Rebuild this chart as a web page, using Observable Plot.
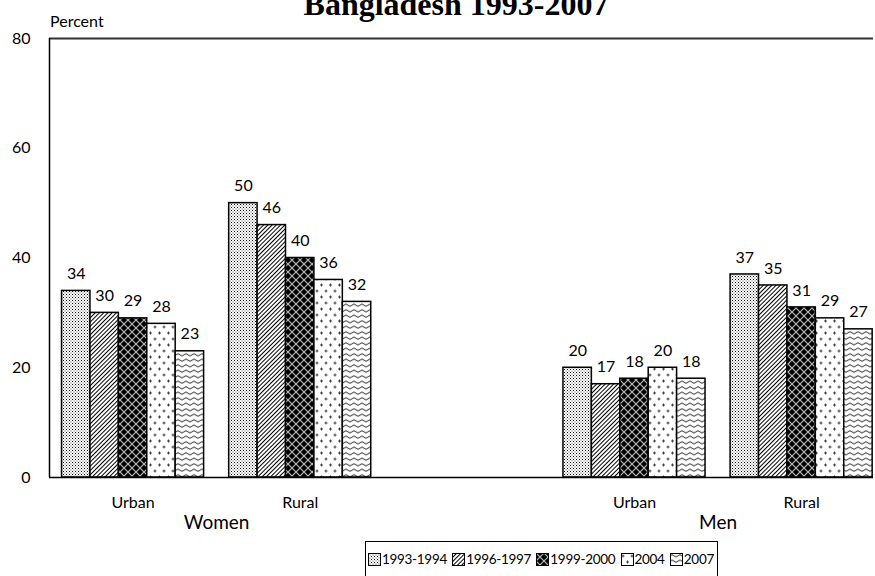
<!DOCTYPE html>
<html><head><meta charset="utf-8">
<script src="https://cdn.jsdelivr.net/npm/d3@7"></script>
<script src="https://cdn.jsdelivr.net/npm/@observablehq/plot@0.6"></script>
<style>
body{margin:0;background:#fff;}
#wrap{position:relative;width:875px;height:576px;overflow:hidden;font-family:Lato,sans-serif;color:#000;}
#wrap > svg{position:absolute;left:0;top:0;}
#title{position:absolute;top:-12px;left:456px;transform:translateX(-50%);white-space:nowrap;font:bold 32px "Liberation Serif",serif;line-height:32px;}
#ylab{position:absolute;left:50px;top:11px;font-size:16px;line-height:19px;}
#legend{position:absolute;left:365px;top:541px;width:353px;height:36px;border:1px solid #000;display:flex;justify-content:space-between;align-items:center;padding:0 3px 0 2px;box-sizing:border-box;font-size:13.5px;letter-spacing:-0.3px;}
.item{display:flex;align-items:center;}
.item svg{margin-right:1px;}
</style></head><body><div id="wrap"></div>
<script>
const sexes = ["Women", "Men"];
const areas = ["Urban", "Rural"];
const years = ["1993-1994", "1996-1997", "1999-2000", "2004", "2007"];
// values in order: Women Urban, Women Rural, Men Urban, Men Rural
const v1993 = [34, 50, 20, 37];
const v1996 = [30, 46, 17, 35];
const v1999 = [29, 40, 18, 31];
const v2004 = [28, 36, 20, 29];
const v2007 = [23, 32, 18, 27];
const yTicks = [0, 20, 40, 60, 80];
const yLabel = "Percent";
const titleText = "Bangladesh 1993-2007";

const series = [v1993, v1996, v1999, v2004, v2007];
const groupW = 0.85, barW = groupW / years.length;
const xMin = -0.5, xMax = 4.43;
const groups = [];
sexes.forEach((s, si) => areas.forEach((a, ai) => groups.push({sex: s, area: a, gi: si * areas.length + ai, slot: si * (areas.length + 1) + ai})));
const bars = [];
years.forEach((y, k) => groups.forEach(g => bars.push({year: y, k, slot: g.slot, value: series[k][g.gi]})));

const svg = Plot.plot({
  width: 875, height: 576,
  marginLeft: 49, marginRight: 2, marginTop: 38, marginBottom: 99,
  style: {fontFamily: "Lato, sans-serif", fontSize: "16px", color: "#000", background: "transparent"},
  x: {domain: [xMin, xMax]},
  y: {domain: [0, 80]},
  color: {type: "identity"},
  marks: [
    Plot.rectY(bars, {x1: d => d.slot - groupW / 2 + d.k * barW, x2: d => d.slot - groupW / 2 + (d.k + 1) * barW, y1: 0, y2: "value", fill: d => `url(#pat${d.k})`, stroke: "#000", strokeWidth: 1.5}),
    Plot.text(bars, {x: d => d.slot - groupW / 2 + (d.k + 0.5) * barW, y: "value", text: d => String(d.value), dy: -17, fontSize: 16}),
    Plot.ruleY([80], {stroke: "#333", strokeWidth: 2}),
    Plot.ruleY([0], {stroke: "#000", strokeWidth: 1.5}),
    Plot.ruleX([xMin], {stroke: "#000", strokeWidth: 1.5}),
    Plot.axisY({ticks: yTicks, tickSize: 0, tickPadding: 19, label: null, fontSize: 16}),
    Plot.axisX({ticks: groups.map(g => g.slot), tickFormat: s => groups.find(g => g.slot === s).area, tickSize: 0, tickPadding: 19, label: null, fontSize: 16}),
    Plot.text(sexes, {x: (d, i) => i * (areas.length + 1) + (areas.length - 1) / 2, y: () => 0, text: d => d, dy: 45, fontSize: 19})
  ]
});

svg.insertAdjacentHTML("afterbegin", `<defs>
<pattern id="pat0" width="3" height="3" patternUnits="userSpaceOnUse"><rect width="3" height="3" fill="#fff"/><rect x="0" y="0" width="1" height="1" fill="#111"/><rect x="1.5" y="1.5" width="1" height="1" fill="#555"/></pattern>
<pattern id="pat1" width="3" height="3" patternUnits="userSpaceOnUse" patternTransform="rotate(45)"><rect width="3" height="3" fill="#fff"/><line x1="0.5" y1="0" x2="0.5" y2="3" stroke="#000" stroke-width="1"/></pattern>
<pattern id="pat2" width="8" height="8" patternUnits="userSpaceOnUse"><rect width="8" height="8" fill="#000"/><path d="M0 0L8 8M8 0L0 8" stroke="#bbb" stroke-width="1.2"/></pattern>
<pattern id="pat3" width="9" height="12" patternUnits="userSpaceOnUse"><rect width="9" height="12" fill="#fff"/><path d="M0.5 3H3.5M2 1.5V4.5M5 9H8M6.5 7.5V10.5" stroke="#333" stroke-width="0.9"/></pattern>
<pattern id="pat4" width="8" height="5.5" patternUnits="userSpaceOnUse"><rect width="8" height="5.5" fill="#fff"/><path d="M0 2.75Q2 0.5 4 2.75T8 2.75" fill="none" stroke="#000" stroke-width="0.9"/></pattern>
</defs>`);

const wrap = document.getElementById("wrap");
wrap.appendChild(svg);
const t = document.createElement("div"); t.id = "title"; t.textContent = titleText; wrap.appendChild(t);
const yl = document.createElement("div"); yl.id = "ylab"; yl.textContent = yLabel; wrap.appendChild(yl);
const lg = document.createElement("div"); lg.id = "legend";
years.forEach((y, k) => {
  const it = document.createElement("div"); it.className = "item";
  it.innerHTML = `<svg width="13" height="13"><rect x="0.5" y="0.5" width="12" height="12" fill="url(#pat${k})" stroke="#000" stroke-width="1"/></svg><span>${y}</span>`;
  lg.appendChild(it);
});
wrap.appendChild(lg);
</script></body></html>
